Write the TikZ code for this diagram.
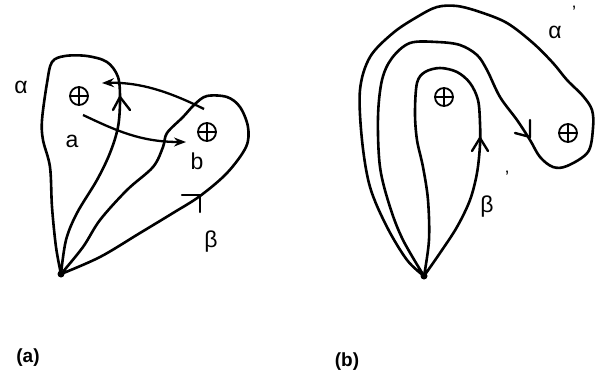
\documentclass[tikz,border=0pt]{standalone}
\usepackage{fontspec}
\setmainfont{Liberation Sans}
\usetikzlibrary{arrows.meta}
\begin{document}
\begin{tikzpicture}[x=1pt,y=-1pt,
  curve/.style={line width=2.6pt,line join=round,line cap=round},
  tipmark/.style={line width=2.4pt,line cap=round,line join=round},
  oplus/.style={circle,draw,line width=1.8pt,minimum size=18pt,inner sep=0pt,
    path picture={\draw[line width=1.4pt] (path picture bounding box.north) -- (path picture bounding box.south)
      (path picture bounding box.west) -- (path picture bounding box.east);}},
  lbl/.style={font=\fontsize{23}{25}\selectfont,inner sep=0pt},
  primetxt/.style={font=\fontsize{18}{20}\selectfont,inner sep=0pt},
  captxt/.style={font=\bfseries\fontsize{19}{21}\selectfont,inner sep=0pt}]
\useasboundingbox (0,0) rectangle (595,378);

% ---------- panel (a) ----------
\coordinate (A0) at (61,274);
\fill (A0) circle (3.5pt);
% loop alpha
\draw[curve] plot[smooth,tension=0.55] coordinates {(A0) (56,247) (52,207) (50,167) (43,140) (42,120) (47,83) (52,62) (65,56) (87,56) (107,62) (118,77) (120,100) (118,127) (110,153) (97,180) (77,213) (66,240) (A0)};
% loop beta
\draw[curve] plot[smooth,tension=0.55] coordinates {(A0) (100,257) (140,233) (173,213) (200,196) (227,173) (246,147) (248,127) (240,107) (227,97) (207,96) (195,104) (183,117) (167,133) (163,147) (153,167) (127,190) (100,220) (83,247) (A0)};
% arrowheads on loops
\draw[tipmark] (113,110) -- (120,97) -- (130,110);
\draw[tipmark] (182,195) -- (200,195) -- (200,212);
% points
\node[oplus] (p1) at (79,96) {};
\node[oplus] (p2) at (207,132) {};
% arrows a and back
\draw[line width=2.3pt,-{Stealth[length=12pt,width=9pt]}] (83,115) .. controls (115,130) and (140,142) .. (186,142);
\draw[line width=2.3pt,-{Stealth[length=12pt,width=9pt]}] (204,109) .. controls (170,92) and (140,82) .. (102,83);
% labels
\node[lbl] (al) at (21,87) {α};
\node[lbl] (la) at (72,141) {a};
\node[lbl] (lb) at (197,161) {b};
\node[lbl] (be) at (211,242) {β};
\node[captxt] (ca) at (28,358) {(a)};

% ---------- panel (b) ----------
\coordinate (B0) at (424,276);
\fill (B0) circle (3.5pt);
% loop beta'
\draw[curve] plot[smooth,tension=0.55] coordinates {(B0) (429,240) (428,200) (423,167) (417,140) (415,113) (417,83) (425,72) (440,68) (457,72) (470,83) (478,100) (480,123) (480,145) (477,173) (470,200) (457,227) (440,253) (B0)};
% loop alpha'
\draw[curve] plot[smooth,tension=0.55] coordinates {(B0) (407,260) (387,227) (370,187) (362,140) (360,90) (370,57) (393,33) (417,17) (437,7) (457,6) (480,12) (507,23) (533,43) (553,63) (567,80) (583,96) (592,110) (593,128) (588,152) (567,166) (553,167) (540,157) (530,140) (517,120) (500,97) (487,70) (477,55) (460,45) (437,42) (410,43) (392,58) (382,80) (378,117) (380,167) (390,207) (403,240) (B0)};
% arrowheads
\draw[tipmark] (472,151) -- (480,138) -- (488,151);
\draw[tipmark] (515,133) -- (530,137) -- (530,120);
% points
\node[oplus] (p3) at (444,97) {};
\node[oplus] (p4) at (568,133) {};
% labels
\node[lbl] (alp) at (555,32) {α};
\node[primetxt] (alq) at (574,12) {’};
\node[lbl] (bep) at (487,207) {β};
\node[primetxt] (beq) at (507,177) {’};
\node[captxt] (cb) at (347,362) {(b)};
\end{tikzpicture}
\end{document}
